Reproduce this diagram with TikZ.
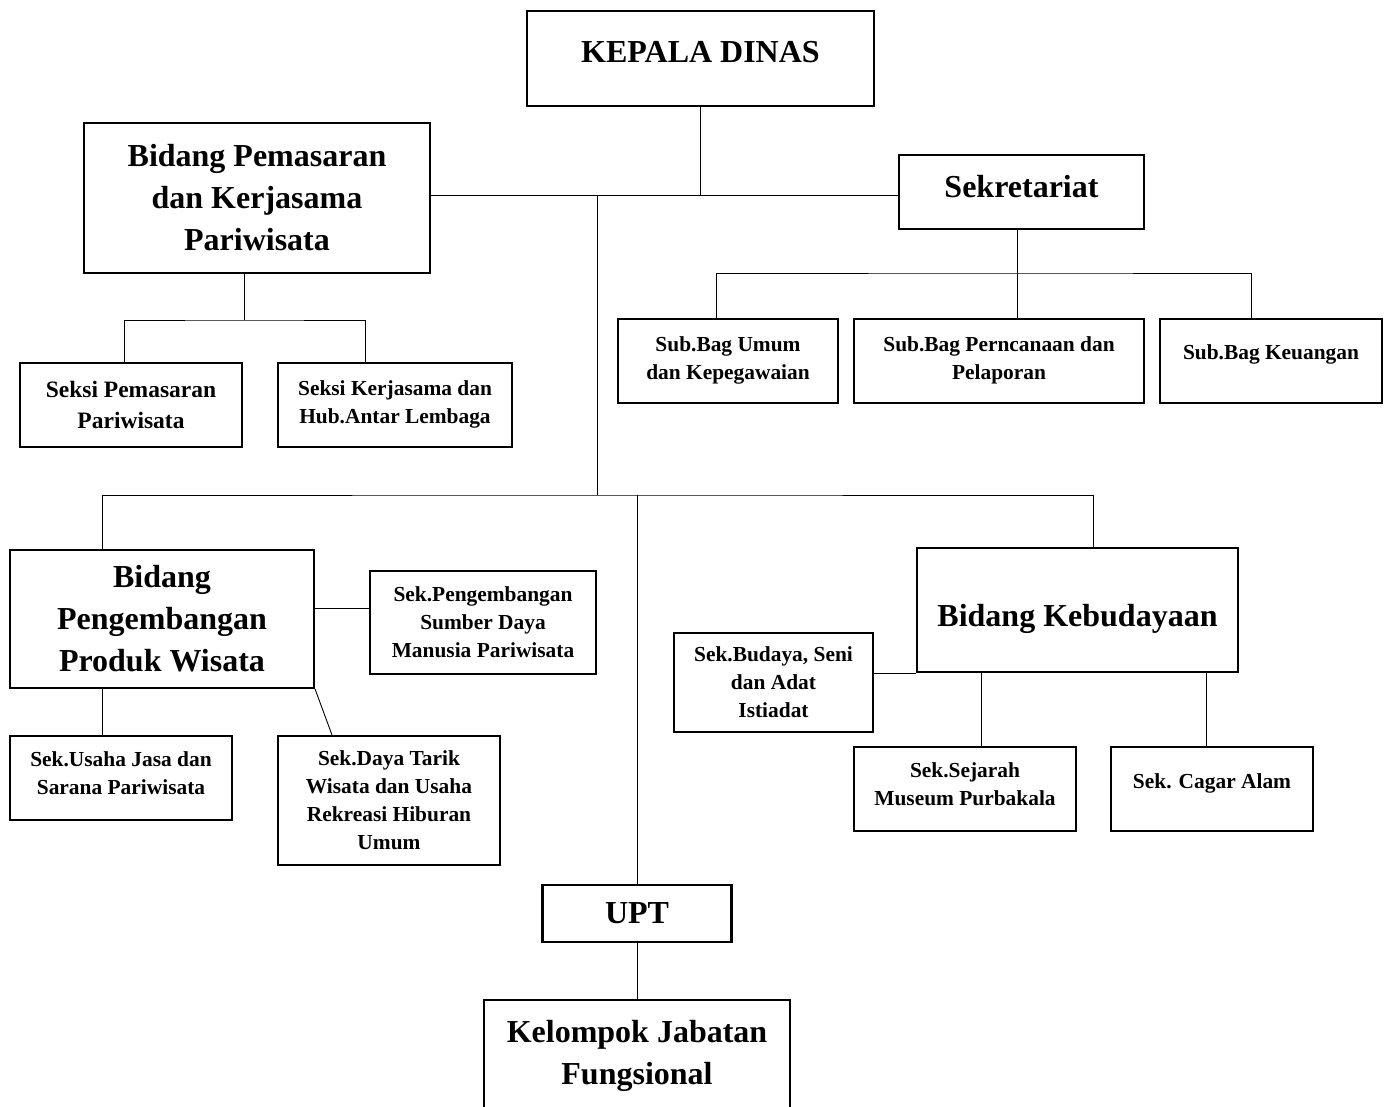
\documentclass[tikz,border=0pt]{standalone}
\usepackage{fontspec}
\setmainfont{Liberation Serif}
\usepackage{tikz}

\begin{document}
\begin{tikzpicture}[
  x=1pt, y=-1pt,
  kotak/.style={draw, rectangle, line width=2.1pt, align=center, inner sep=2pt},
  bigbox/.style={kotak, font=\fontsize{32}{42}\selectfont\bfseries},
  smallbox/.style={kotak, font=\fontsize{21.4}{28}\selectfont\bfseries},
  every path/.style={line width=0.9pt}
  ]
\fill[white] (0,0) rectangle (1392,1106);
\useasboundingbox (0,0) rectangle (1392,1106);

% kotak-kotak
\node[bigbox, minimum width=347, minimum height=95, text depth=14pt] (kepala) at (700.5,58.5) {KEPALA DINAS};
\node[bigbox, minimum width=346, minimum height=150] (pemasaran) at (257,198) {Bidang Pemasaran\\dan Kerjasama\\Pariwisata};
\node[bigbox, minimum width=245, minimum height=74, text depth=12pt] (sekre) at (1021.5,192) {Sekretariat};
\node[smallbox, minimum width=222, minimum height=84, font=\fontsize{23.5}{31}\selectfont\bfseries] (seksipem) at (131,405) {Seksi Pemasaran\\Pariwisata};
\node[smallbox, minimum width=234, minimum height=84, text depth=6pt] (seksikerja) at (395,405) {Seksi Kerjasama dan\\Hub.Antar Lembaga};
\node[smallbox, minimum width=220, minimum height=84, text depth=6pt] (umum) at (728,361) {Sub.Bag Umum\\dan Kepegawaian};
\node[smallbox, minimum width=290, minimum height=84, text depth=6pt] (rencana) at (999,361) {Sub.Bag Perncanaan dan\\Pelaporan};
\node[smallbox, minimum width=222, minimum height=84, text depth=18.5pt] (uang) at (1271,361) {Sub.Bag Keuangan};
\node[bigbox, minimum width=304, minimum height=138] (pengembangan) at (162,619) {Bidang\\Pengembangan\\Produk Wisata};
\node[smallbox, minimum width=226, minimum height=103] (sdm) at (483,622.5) {Sek.Pengembangan\\Sumber Daya\\Manusia Pariwisata};
\node[smallbox, minimum width=222, minimum height=84, text depth=10pt] (usaha) at (121,778) {Sek.Usaha Jasa dan\\Sarana Pariwisata};
\node[smallbox, minimum width=222, minimum height=129] (dayatarik) at (389,800.5) {Sek.Daya Tarik\\Wisata dan Usaha\\Rekreasi Hiburan\\Umum};
\node[bigbox, minimum width=321, minimum height=124, text height=40pt] (kebudayaan) at (1077.5,610) {Bidang Kebudayaan};
\node[smallbox, minimum width=199, minimum height=99] (budaya) at (773.5,682.5) {Sek.Budaya, Seni\\dan Adat\\Istiadat};
\node[smallbox, minimum width=222, minimum height=84, text depth=10pt] (sejarah) at (965,789) {Sek.Sejarah\\Museum Purbakala};
\node[smallbox, minimum width=202, minimum height=84, text depth=16.5pt] (cagar) at (1212,789) {Sek. Cagar Alam};
\node[bigbox, minimum width=189, minimum height=57] (upt) at (637,913.5) {UPT};
\node[bigbox, minimum width=306, minimum height=112] (kelompok) at (637,1056) {Kelompok Jabatan\\Fungsional};

% garis
\coordinate (hub) at (700,195);
\coordinate (spine) at (597,195);
\coordinate (bus) at (597,495);
\coordinate (pmj) at (244,320);
\coordinate (sej) at (1017,273);

\draw (kepala.south) -- (kepala.south |- hub);
\draw (pemasaran.east |- hub) -- (sekre.west |- hub);
\draw (spine) -- (bus);
\draw (pmj |- pemasaran.south) -- (pmj);
\draw ([xshift=-7pt]seksipem.north) |- (pmj) -| ([xshift=-30pt]seksikerja.north);
\draw (sej |- sekre.south) -- (sej |- rencana.north);
\draw ([xshift=-12pt]umum.north) |- (sej) -| ([xshift=-20pt]uang.north);
\draw ([xshift=-60pt]pengembangan.north) |- (bus) -| ([xshift=15.5pt]kebudayaan.north);
\draw (upt.north |- bus) -- (upt.north);
\draw (upt) -- (kelompok);
\draw ([yshift=11pt]pengembangan.east) -- ++(54,0);
\draw ([xshift=-60pt]pengembangan.south) -- ([xshift=-19pt]usaha.north);
\draw (pengembangan.south east) -- ([xshift=-57pt]dayatarik.north);
\draw (kebudayaan.south west) -- (budaya.east |- kebudayaan.south west);
\draw ([xshift=16pt]sejarah.north |- kebudayaan.south) -- ([xshift=16pt]sejarah.north);
\draw ([xshift=-6pt]cagar.north |- kebudayaan.south) -- ([xshift=-6pt]cagar.north);

\end{tikzpicture}
\end{document}
